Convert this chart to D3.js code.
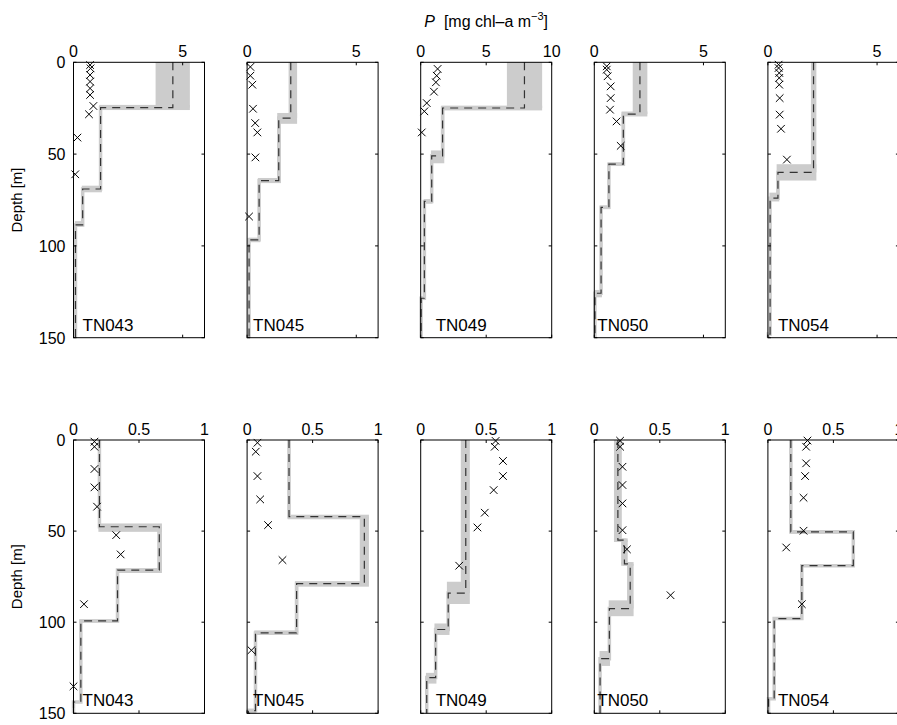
<!DOCTYPE html>
<html>
<head>
<meta charset="utf-8">
<script src="https://cdn.jsdelivr.net/npm/d3@7"></script>
<style>
  body { margin: 0; background: #fff; }
  text { font-family: "Liberation Sans", Arial, Helvetica, sans-serif; fill: #000; }
</style>
</head>
<body>
<svg id="chart" width="897" height="725"></svg>
<script>
// Stations (columns) and axis settings
const stations = ["TN043", "TN045", "TN049", "TN050", "TN054"];
const depthTicks = [0, 50, 100, 150];
const upperXMax = [6, 6, 10, 6, 6];
const upperXTicks = [[0, 5], [0, 5], [0, 5, 10], [0, 5], [0, 5]];
const lowerXMax = [1, 1, 1, 1, 1];
const lowerXTicks = [[0, 0.5, 1], [0, 0.5, 1], [0, 0.5, 1], [0, 0.5, 1], [0, 0.5, 1]];

// Step profiles, one row per layer:
// [layer bottom depth, mean P, low P, high P, bottom-boundary depth low, bottom-boundary depth high]
const upperLayers = [
  [ [24.7, 4.55, 3.76, 5.33, 23.2, 26.0], [69.0, 1.24, 1.18, 1.30, 67.2, 70.8],
    [88.6, 0.42, 0.38, 0.46, 86.5, 89.5], [150, 0.09, 0.06, 0.12, 150, 150] ],
  [ [30.4, 2.00, 1.90, 2.29, 27.6, 33.5], [64.4, 1.45, 1.38, 1.55, 63.0, 65.8],
    [96.7, 0.55, 0.50, 0.60, 95.5, 98.0], [150, 0.09, 0.06, 0.12, 150, 150] ],
  [ [24.9, 7.92, 6.58, 9.27, 23.6, 26.2], [51.0, 1.67, 1.57, 1.80, 48.0, 55.0],
    [75.8, 0.84, 0.78, 0.90, 74.5, 77.0], [128.5, 0.28, 0.24, 0.32, 127.5, 129.5],
    [150, 0.03, 0.00, 0.06, 150, 150] ],
  [ [28.2, 2.09, 1.76, 2.43, 26.8, 29.5], [55.5, 1.33, 1.25, 1.41, 54.5, 56.5],
    [79.0, 0.67, 0.62, 0.72, 78.0, 80.0], [125.8, 0.31, 0.27, 0.35, 124.0, 128.0],
    [150, 0.03, 0.00, 0.05, 150, 150] ],
  [ [60.0, 2.09, 1.97, 2.22, 55.5, 64.4], [74.0, 0.46, 0.40, 0.52, 71.0, 75.8],
    [148.0, 0.10, 0.07, 0.13, 147.0, 149.0], [150, 0.02, 0.00, 0.04, 150, 150] ]
];
const lowerLayers = [
  [ [47.6, 0.198, 0.190, 0.205, 45.8, 50.4], [71.4, 0.655, 0.640, 0.675, 70.5, 73.0],
    [99.3, 0.336, 0.330, 0.345, 98.5, 100.2], [143.8, 0.056, 0.050, 0.062, 143.3, 144.3],
    [150, 0.000, 0.000, 0.005, 150, 150] ],
  [ [42.1, 0.320, 0.310, 0.330, 41.0, 43.5], [78.8, 0.895, 0.860, 0.930, 77.5, 80.5],
    [105.9, 0.378, 0.365, 0.390, 104.5, 107.0], [148.5, 0.064, 0.055, 0.070, 147.5, 150],
    [150, 0.010, 0.000, 0.020, 150, 150] ],
  [ [84.0, 0.344, 0.306, 0.375, 77.8, 90.0], [104.0, 0.210, 0.200, 0.220, 100.7, 107.0],
    [130.4, 0.114, 0.105, 0.120, 127.8, 133.7], [150, 0.046, 0.040, 0.050, 150, 150] ],
  [ [55.0, 0.180, 0.150, 0.210, 54.0, 56.0], [68.0, 0.230, 0.205, 0.255, 67.0, 69.0],
    [92.5, 0.274, 0.250, 0.300, 88.0, 96.7], [120.0, 0.115, 0.110, 0.120, 115.8, 124.0],
    [150, 0.044, 0.040, 0.050, 150, 150] ],
  [ [50.4, 0.175, 0.165, 0.185, 49.5, 51.5], [69.0, 0.652, 0.645, 0.660, 68.5, 69.5],
    [98.0, 0.259, 0.250, 0.268, 97.5, 98.5], [142.0, 0.048, 0.045, 0.052, 141.5, 142.5],
    [150, 0.005, 0.000, 0.010, 150, 150] ]
];

// Bottle observations: [P, depth]
const upperObs = [
  [[0.76, 1.5], [0.78, 3.3], [0.76, 6.9], [0.76, 10.5], [0.76, 14.2], [0.76, 17.8], [0.91, 23.8], [0.71, 28.3], [0.18, 41], [0.08, 61]],
  [[0.15, 2.5], [0.15, 7.3], [0.24, 12.2], [0.27, 25.3], [0.37, 33.1], [0.47, 38.2], [0.38, 51.8], [0.09, 84]],
  [[1.29, 3.6], [1.22, 7.3], [1.16, 10.9], [1.01, 16.0], [0.46, 22.2], [0.28, 26.7], [0.08, 38.2]],
  [[0.57, 2.2], [0.57, 4.0], [0.61, 7.6], [0.75, 13.1], [0.75, 19.5], [0.72, 25.8], [1.02, 32.2], [1.21, 45.5]],
  [[0.49, 1.3], [0.49, 3.1], [0.52, 5.8], [0.52, 8.5], [0.52, 12.2], [0.54, 19.5], [0.54, 28.5], [0.60, 36.2], [0.87, 53]]
];
const lowerObs = [
  [[0.16, 0.9], [0.16, 3.7], [0.16, 15.9], [0.16, 26.0], [0.18, 36.6], [0.326, 52.2], [0.36, 62.8], [0.08, 90.1], [0.0, 135.2]],
  [[0.079, 1.5], [0.066, 6.4], [0.079, 19.8], [0.10, 32.6], [0.16, 46.7], [0.27, 65.9], [0.033, 115.4]],
  [[0.572, 0.5], [0.565, 3.7], [0.628, 11.5], [0.628, 19.8], [0.557, 27.5], [0.489, 39.9], [0.433, 48.0], [0.294, 69.0]],
  [[0.197, 0.4], [0.197, 3.7], [0.215, 14.7], [0.215, 24.7], [0.215, 34.8], [0.215, 49.5], [0.249, 60.0], [0.582, 85.2]],
  [[0.302, 0.3], [0.292, 3.7], [0.292, 12.8], [0.284, 19.8], [0.272, 31.7], [0.272, 49.8], [0.14, 59.0], [0.259, 90.1]]
];

// ---- layout ----
const svg = d3.select("#chart");
const panelLeft0 = 73.5, panelStep = 173.6, panelW = 131;
const rowsLayout = [
  { top: 62.3, bottom: 337.7, layers: upperLayers, obs: upperObs, xMax: upperXMax, xTicks: upperXTicks },
  { top: 440, bottom: 713.3, layers: lowerLayers, obs: lowerObs, xMax: lowerXMax, xTicks: lowerXTicks }
];
const labelInset = [9, 6, 15, 3, 10];
const tickLen = 3;
const bandColor = "#cccccc";

function drawPanel(g, row, col) {
  const x0 = panelLeft0 + col * panelStep;
  const x = d3.scaleLinear().domain([0, row.xMax[col]]).range([x0, x0 + panelW]);
  const y = d3.scaleLinear().domain([0, 150]).range([row.top, row.bottom]);
  const layers = row.layers[col];

  // uncertainty band: one box per layer plus one box per layer boundary
  const band = g.append("g").attr("fill", bandColor);
  let prevBottom = 0;
  layers.forEach((L, i) => {
    band.append("rect")
      .attr("x", x(L[2])).attr("width", Math.max(0, x(L[3]) - x(L[2])))
      .attr("y", y(prevBottom)).attr("height", y(L[0]) - y(prevBottom));
    const next = layers[i + 1];
    if (next) {
      const lo = Math.min(L[2], next[2]), hi = Math.max(L[3], next[3]);
      band.append("rect")
        .attr("x", x(lo)).attr("width", x(hi) - x(lo))
        .attr("y", y(L[4])).attr("height", y(L[5]) - y(L[4]));
    }
    prevBottom = L[0];
  });

  // step profile of the mean
  const pts = [];
  let d0 = 0;
  layers.forEach(L => { pts.push([L[1], d0]); pts.push([L[1], L[0]]); d0 = L[0]; });
  const line = d3.line().x(d => x(d[0])).y(d => y(d[1]));
  g.append("path").attr("d", line(pts))
    .attr("fill", "none").attr("stroke", bandColor).attr("stroke-width", 3.5);
  g.append("path").attr("d", line(pts))
    .attr("fill", "none").attr("stroke", "#333").attr("stroke-width", 1.2)
    .attr("stroke-dasharray", "8,6");

  // observations as crosses
  const s = 3.8;
  g.append("g").selectAll("path").data(row.obs[col]).join("path")
    .attr("d", d => `M${x(d[0]) - s},${y(d[1]) - s}L${x(d[0]) + s},${y(d[1]) + s}M${x(d[0]) - s},${y(d[1]) + s}L${x(d[0]) + s},${y(d[1]) - s}`)
    .attr("stroke", "#000").attr("stroke-width", 1).attr("fill", "none");

  // frame
  g.append("rect").attr("x", x0).attr("y", row.top).attr("width", panelW).attr("height", row.bottom - row.top)
    .attr("fill", "none").attr("stroke", "#000").attr("stroke-width", 1);

  // inward ticks on all four sides
  const ticks = g.append("g").attr("stroke", "#000").attr("stroke-width", 1);
  row.xTicks[col].forEach(t => {
    ticks.append("line").attr("x1", x(t)).attr("x2", x(t)).attr("y1", row.top).attr("y2", row.top + tickLen);
    ticks.append("line").attr("x1", x(t)).attr("x2", x(t)).attr("y1", row.bottom).attr("y2", row.bottom - tickLen);
  });
  depthTicks.forEach(t => {
    ticks.append("line").attr("x1", x0).attr("x2", x0 + tickLen).attr("y1", y(t)).attr("y2", y(t));
    ticks.append("line").attr("x1", x0 + panelW).attr("x2", x0 + panelW - tickLen).attr("y1", y(t)).attr("y2", y(t));
  });

  // x tick labels on top
  g.append("g").selectAll("text").data(row.xTicks[col]).join("text")
    .attr("x", d => x(d)).attr("y", row.top - 5)
    .attr("text-anchor", "middle").attr("font-size", 16)
    .text(d => String(d));

  // depth tick labels on the first column only
  if (col === 0) {
    g.append("g").selectAll("text").data(depthTicks).join("text")
      .attr("x", x0 - 8).attr("y", d => y(d) + 6)
      .attr("text-anchor", "end").attr("font-size", 16)
      .text(d => String(d));
    g.append("text")
      .attr("transform", `translate(22,${(row.top + row.bottom) / 2}) rotate(-90)`)
      .attr("text-anchor", "middle").attr("font-size", 15)
      .text("Depth [m]");
  }

  // station label
  g.append("text")
    .attr("x", x0 + labelInset[col]).attr("y", row.bottom - 7)
    .attr("font-size", 17)
    .text(stations[col]);
}

rowsLayout.forEach(row => {
  stations.forEach((st, col) => drawPanel(svg.append("g"), row, col));
});

// overall axis title
const title = svg.append("text")
  .attr("x", panelLeft0 + 2 * panelStep + panelW / 2).attr("y", 27)
  .attr("text-anchor", "middle").attr("font-size", 16);
title.append("tspan").attr("font-style", "italic").text("P");
title.append("tspan").text("\u00a0 [mg chl\u2013a m");
title.append("tspan").attr("font-size", 11).attr("dy", -7).text("\u22123");
title.append("tspan").attr("dy", 7).text("]");
</script>
</body>
</html>
